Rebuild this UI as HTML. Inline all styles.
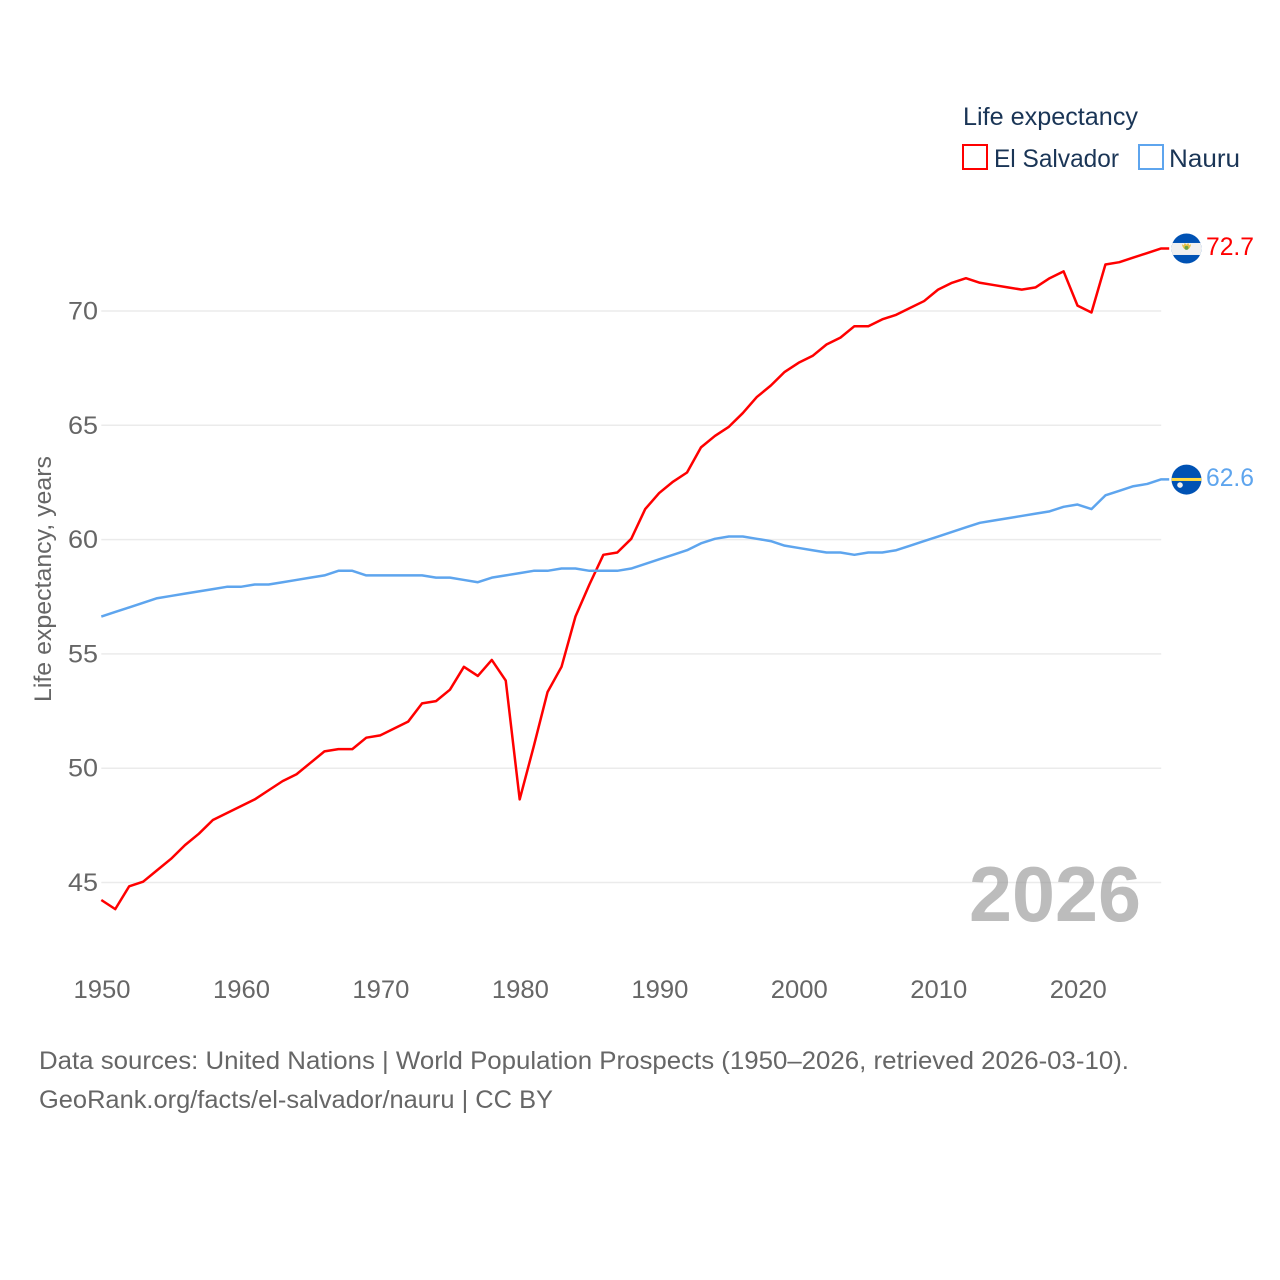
<!DOCTYPE html>
<html>
<head>
<meta charset="utf-8">
<title>Life expectancy: El Salvador and Nauru</title>
<style>
html,body{margin:0;padding:0;background:#fff;}
svg{display:block;font-family:"Liberation Sans",sans-serif;}
</style>
</head>
<body>
<svg id="chart" width="1280" height="1280" viewBox="0 0 1280 1280" xmlns="http://www.w3.org/2000/svg">
  <g id="grid"></g>
  <g id="yticks"></g>
  <g id="xticks"></g>
  <text transform="translate(51,702) rotate(-90)" font-size="24" fill="#666666" textLength="246" lengthAdjust="spacingAndGlyphs">Life expectancy, years</text>
  <text x="969" y="921" font-size="78" font-weight="700" fill="#8f8f8f" fill-opacity="0.6" textLength="172" lengthAdjust="spacingAndGlyphs">2026</text>
  <g id="series"></g>

  <g>
    <text x="963" y="125" font-size="25" fill="#1a3556" textLength="175" lengthAdjust="spacingAndGlyphs">Life expectancy</text>
    <g>
      <rect x="963" y="145" width="24" height="24" fill="none" stroke="#ff0000" stroke-width="2"/>
      <text x="994" y="167" font-size="25" fill="#1a3556" textLength="125" lengthAdjust="spacingAndGlyphs">El Salvador</text>
    </g>
    <g>
      <rect x="1139" y="145" width="24" height="24" fill="none" stroke="#5ea5ee" stroke-width="2"/>
      <text x="1169" y="167" font-size="25" fill="#1a3556" textLength="71" lengthAdjust="spacingAndGlyphs">Nauru</text>
    </g>
  </g>

  <g id="endmarks"></g>

  <text x="39" y="1069" font-size="25" fill="#666666" textLength="1090" lengthAdjust="spacingAndGlyphs">Data sources: United Nations | World Population Prospects (1950–2026, retrieved 2026-03-10).</text>
  <text x="39" y="1108" font-size="25" fill="#666666" textLength="514" lengthAdjust="spacingAndGlyphs">GeoRank.org/facts/el-salvador/nauru | CC BY</text>
</svg>
<script>
const years = [1950,1951,1952,1953,1954,1955,1956,1957,1958,1959,1960,1961,1962,1963,1964,1965,1966,1967,1968,1969,1970,1971,1972,1973,1974,1975,1976,1977,1978,1979,1980,1981,1982,1983,1984,1985,1986,1987,1988,1989,1990,1991,1992,1993,1994,1995,1996,1997,1998,1999,2000,2001,2002,2003,2004,2005,2006,2007,2008,2009,2010,2011,2012,2013,2014,2015,2016,2017,2018,2019,2020,2021,2022,2023,2024,2025,2026];
const elSalvador = [44.2,43.8,44.8,45.0,45.5,46.0,46.6,47.1,47.7,48.0,48.3,48.6,49.0,49.4,49.7,50.2,50.7,50.8,50.8,51.3,51.4,51.7,52.0,52.8,52.9,53.4,54.4,54.0,54.7,53.8,48.6,50.9,53.3,54.4,56.6,58.0,59.3,59.4,60.0,61.3,62.0,62.5,62.9,64.0,64.5,64.9,65.5,66.2,66.7,67.3,67.7,68.0,68.5,68.8,69.3,69.3,69.6,69.8,70.1,70.4,70.9,71.2,71.4,71.2,71.1,71.0,70.9,71.0,71.4,71.7,70.2,69.9,72.0,72.1,72.3,72.5,72.7];
const nauru = [56.6,56.8,57.0,57.2,57.4,57.5,57.6,57.7,57.8,57.9,57.9,58.0,58.0,58.1,58.2,58.3,58.4,58.6,58.6,58.4,58.4,58.4,58.4,58.4,58.3,58.3,58.2,58.1,58.3,58.4,58.5,58.6,58.6,58.7,58.7,58.6,58.6,58.6,58.7,58.9,59.1,59.3,59.5,59.8,60.0,60.1,60.1,60.0,59.9,59.7,59.6,59.5,59.4,59.4,59.3,59.4,59.4,59.5,59.7,59.9,60.1,60.3,60.5,60.7,60.8,60.9,61.0,61.1,61.2,61.4,61.5,61.3,61.9,62.1,62.3,62.4,62.6];
const yTicks = [45,50,55,60,65,70];
const xTicks = [1950,1960,1970,1980,1990,2000,2010,2020];

const NS = 'http://www.w3.org/2000/svg';
const xLeft = 101.3, xRight = 1161.2, x0 = 1950, x1 = 2026;
const yAt45 = 882.5, yAt70 = 311;
const lineShift = -0.8;
function xScale(v){ return xLeft + (v - x0) * (xRight - xLeft) / (x1 - x0); }
function yScale(v){ return yAt45 + (v - 45) * (yAt70 - yAt45) / (70 - 45); }
function make(tag, attrs, parent){
  const el = document.createElementNS(NS, tag);
  for (const k in attrs) el.setAttribute(k, attrs[k]);
  parent.appendChild(el);
  return el;
}

const gridG = document.getElementById('grid');
const yG = document.getElementById('yticks');
yTicks.forEach(function(t){
  const line = make('line', {x1: xLeft, x2: xRight, y1: yScale(t), y2: yScale(t), stroke: '#ebebeb', 'stroke-width': 1.5}, gridG);
  
  
  const label = make('text', {x: 98, y: yScale(t) + 8.5, 'text-anchor': 'end', 'font-size': 25, fill: '#666666', textLength: 30, lengthAdjust: 'spacingAndGlyphs'}, yG);
  
  
  label.textContent = String(t);
});

const xG = document.getElementById('xticks');
xTicks.forEach(function(t){
  const label = make('text', {x: xScale(t) - 27.8, y: 998, 'font-size': 25, fill: '#666666', textLength: 57, lengthAdjust: 'spacingAndGlyphs'}, xG);
  
  
  label.textContent = String(t);
});

function linePath(values){
  let d = values.map(function(v, i){
    return (i ? 'L' : 'M') + xScale(years[i]).toFixed(2) + ' ' + (yScale(v) + lineShift).toFixed(2);
  }).join(' ');
  d += ' H' + (xRight + 8);
  return d;
}
const seriesG = document.getElementById('series');
const redLine = make('path', {d: linePath(elSalvador), fill: 'none', stroke: '#ff0000', 'stroke-width': 2.5, 'stroke-linejoin': 'round'}, seriesG);


const blueLine = make('path', {d: linePath(nauru), fill: 'none', stroke: '#5ea5ee', 'stroke-width': 2.5, 'stroke-linejoin': 'round'}, seriesG);



const endG = document.getElementById('endmarks');
const cx = 1186.5;
const r = 15;

// El Salvador flag
const esY = yScale(elSalvador[elSalvador.length - 1]) - 0.8;
const esFlag = make('g', {}, endG);


const esClip = make('clipPath', {id: 'clip-es'}, esFlag);
make('circle', {cx: cx, cy: esY, r: r}, esClip);
make('circle', {cx: cx, cy: esY, r: r, fill: '#0052b4'}, esFlag);
make('rect', {x: cx - r, y: esY - 5.5, width: 2 * r, height: 12, fill: '#f0f0f0', 'clip-path': 'url(#clip-es)'}, esFlag);
make('path', {d: 'M' + (cx - 4.5) + ' ' + (esY - 4.5) + ' a4.5 5.5 0 0 0 9 0 l-1.6 1.4 -1.2 -2.4 -1.7 1.6 -1.7 -1.6 -1.2 2.4 z', fill: '#e8c24a'}, esFlag);
make('circle', {cx: cx, cy: esY - 0.6, r: 2, fill: '#6da544'}, esFlag);

const esLabel = make('text', {x: 1206, y: esY + 6.5, 'font-size': 25, fill: '#ff0000', textLength: 48, lengthAdjust: 'spacingAndGlyphs'}, endG);


esLabel.textContent = elSalvador[elSalvador.length - 1].toFixed(1);

// Nauru flag
const naY = yScale(nauru[nauru.length - 1]) - 0.6;
const naFlag = make('g', {}, endG);


make('circle', {cx: cx, cy: naY, r: r, fill: '#0052b4'}, naFlag);
make('rect', {x: cx - r + 0.2, y: naY - 1.6, width: 2 * r - 0.4, height: 3, fill: '#ffda44'}, naFlag);
make('circle', {cx: cx - 6.5, cy: naY + 5.5, r: 2.8, fill: '#f0f0f0'}, naFlag);

const naLabel = make('text', {x: 1206, y: naY + 6.5, 'font-size': 25, fill: '#5ea5ee', textLength: 48, lengthAdjust: 'spacingAndGlyphs'}, endG);


naLabel.textContent = nauru[nauru.length - 1].toFixed(1);
</script>
</body>
</html>
